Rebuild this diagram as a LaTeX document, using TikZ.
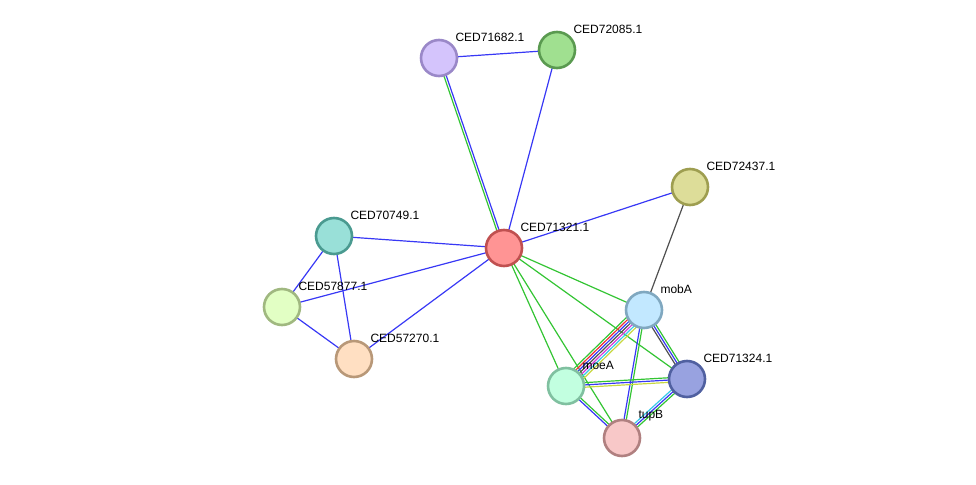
\documentclass[tikz,border=0pt]{standalone}
\usepackage{fontspec}
\setmainfont{Liberation Sans}
\usetikzlibrary{calc,backgrounds}
\definecolor{egreen}{HTML}{33C433}
\definecolor{eblue}{HTML}{3838F5}
\definecolor{eblack}{HTML}{505050}
\definecolor{ered}{HTML}{F03030}
\definecolor{emagenta}{HTML}{D838D8}
\definecolor{ecyan}{HTML}{38C8E8}
\definecolor{eyellow}{HTML}{C8D840}
% node fills and rims
\definecolor{lilac}{HTML}{D4C4FC}    \definecolor{lilacdk}{HTML}{9A88C8}
\definecolor{leaf}{HTML}{A0E090}     \definecolor{leafdk}{HTML}{5A9A50}
\definecolor{khaki}{HTML}{DDDD99}    \definecolor{khakidk}{HTML}{9E9E50}
\definecolor{rose}{HTML}{FF9494}     \definecolor{rosedk}{HTML}{C05050}
\definecolor{aqua}{HTML}{99E0D8}     \definecolor{aquadk}{HTML}{4A9A90}
\definecolor{lime}{HTML}{E2FFC4}     \definecolor{limedk}{HTML}{A0B880}
\definecolor{peach}{HTML}{FFDFC2}    \definecolor{peachdk}{HTML}{B89878}
\definecolor{ice}{HTML}{C2E8FF}      \definecolor{icedk}{HTML}{80A8C0}
\definecolor{slate}{HTML}{98A2E0}    \definecolor{slatedk}{HTML}{5060A0}
\definecolor{mint}{HTML}{C2FFE0}     \definecolor{mintdk}{HTML}{80C0A0}
\definecolor{blush}{HTML}{F8C8C8}    \definecolor{blushdk}{HTML}{B08080}
\tikzset{
  prot/.style 2 args={circle,minimum size=36pt,inner sep=0pt,line width=2.6pt,
              fill=#1,draw=#2},
  lab/.style={font=\fontsize{12}{14}\selectfont,text=black,inner sep=2pt,
              label distance=1pt},
  edge/.style={line width=1.2pt},
}
% parallel links: from, to, count, colours
\newcommand{\lnk}[4]{%
  \foreach \col [count=\i] in {#4} {
    \pgfmathsetmacro\off{(\i-(#3+1)/2)*2.3}
    \draw[edge,\col] ($(#1)!\off pt!90:(#2)$) -- ($(#2)!\off pt!-90:(#1)$);
  }}

\begin{document}
\begin{tikzpicture}[x=1pt,y=-1pt]
  \useasboundingbox (0,0) rectangle (976,484);

  % proteins
  \node[prot={lilac}{lilacdk},label={[lab]45:CED71682.1}] (c71682) at (439,58) {};
  \node[prot={leaf}{leafdk},label={[lab]45:CED72085.1}] (c72085) at (557,50) {};
  \node[prot={khaki}{khakidk},label={[lab]45:CED72437.1}] (c72437) at (690,187) {};
  \node[prot={rose}{rosedk},label={[lab]45:CED71321.1}] (c71321) at (504,248) {};
  \node[prot={aqua}{aquadk},label={[lab]45:CED70749.1}] (c70749) at (334,236) {};
  \node[prot={lime}{limedk},label={[lab]45:CED57877.1}] (c57877) at (282,307) {};
  \node[prot={peach}{peachdk},label={[lab]45:CED57270.1}] (c57270) at (354,359) {};
  \node[prot={ice}{icedk},label={[lab]45:mobA}] (mobA) at (644,310) {};
  \node[prot={slate}{slatedk},label={[lab]45:CED71324.1}] (c71324) at (687,379) {};
  \node[prot={mint}{mintdk},label={[lab]45:moeA}] (moeA) at (566,386) {};
  \node[prot={blush}{blushdk},label={[lab]45:tupB}] (tupB) at (622,438) {};

  % links
  \begin{scope}[on background layer]
    \lnk{c71682}{c72085}{1}{eblue}
    \lnk{c71682}{c71321}{2}{egreen,eblue}
    \lnk{c72085}{c71321}{1}{eblue}
    \lnk{c71321}{c72437}{1}{eblue}
    \lnk{c72437}{mobA}{1}{eblack}
    \lnk{c71321}{c70749}{1}{eblue}
    \lnk{c71321}{c57877}{1}{eblue}
    \lnk{c71321}{c57270}{1}{eblue}
    \lnk{c70749}{c57877}{1}{eblue}
    \lnk{c70749}{c57270}{1}{eblue}
    \lnk{c57877}{c57270}{1}{eblue}
    \lnk{c71321}{mobA}{1}{egreen}
    \lnk{c71321}{c71324}{1}{egreen}
    \lnk{c71321}{moeA}{1}{egreen}
    \lnk{c71321}{tupB}{1}{egreen}
    \lnk{mobA}{moeA}{7}{egreen,ered,eblue,eblack,emagenta,ecyan,eyellow}
    \lnk{mobA}{c71324}{3}{eblack,eblue,egreen}
    \lnk{mobA}{tupB}{2}{eblue,egreen}
    \lnk{moeA}{c71324}{3}{eyellow,eblue,egreen}
    \lnk{moeA}{tupB}{2}{eblue,egreen}
    \lnk{c71324}{tupB}{3}{ecyan,eblue,egreen}
  \end{scope}
\end{tikzpicture}
\end{document}
